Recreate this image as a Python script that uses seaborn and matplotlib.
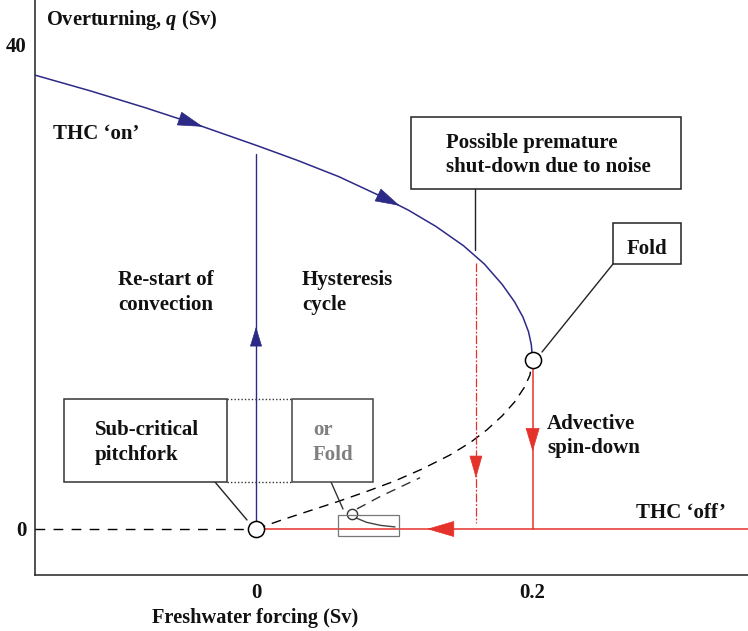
import matplotlib
matplotlib.use("Agg")
import matplotlib.pyplot as plt
import seaborn as sns
import pandas as pd
from matplotlib.patches import Rectangle
from matplotlib.lines import Line2D
from matplotlib.transforms import Affine2D

# ---------------- data ----------------
upper_F = [-0.160, -0.120, -0.080, -0.040, 0.000, 0.030, 0.060, 0.090, 0.110,
           0.130, 0.150, 0.165, 0.178, 0.187, 0.193, 0.197, 0.199, 0.200]
upper_q = [37.5, 36.2, 34.8, 33.3, 31.7, 30.45, 29.1, 27.5, 26.35,
           25.0, 23.4, 21.9, 20.2, 18.75, 17.5, 16.3, 15.25, 14.0]

lower_F = [0.000, 0.020, 0.040, 0.060, 0.080, 0.100, 0.120, 0.140, 0.155,
           0.167, 0.178, 0.187, 0.194, 0.198, 0.200]
lower_q = [0.0, 0.8, 1.55, 2.3, 3.1, 3.95, 4.95, 6.1, 7.15,
           8.2, 9.35, 10.5, 11.7, 12.7, 14.0]

alt_F = [0.073, 0.0897, 0.1186]
alt_q = [1.66, 2.68, 4.24]

inset_F = [0.0715, 0.080, 0.090, 0.1005]
inset_q = [0.95, 0.55, 0.30, 0.17]

off_left_F = [-0.160, 0.0]
off_left_q = [0.0, 0.0]
off_right_F = [0.0, 0.36]
off_right_q = [0.0, 0.0]

restart_F = [0.0, 0.0]
restart_q = [0.0, 31.0]
spindown_F = [0.2, 0.2]
spindown_q = [14.0, 0.0]
noise_F = [0.159, 0.159]
noise_q = [22.0, 0.5]

bif_F = [0.0, 0.2]
bif_q = [0.0, 14.0]
small_F = [0.0694]
small_q = [1.24]

x_ticks = [0, 0.2]
x_ticklabels = ["0", "0.2"]
y_ticks = [0, 40]
y_ticklabels = ["0", "40"]

NAVY = "#2c2a86"
RED = "#e5322a"

# ---------------- figure ----------------
sns.set_theme(style="white")
plt.rcParams["font.family"] = ["Liberation Serif", "DejaVu Serif"]
plt.rcParams["font.weight"] = "bold"
plt.rcParams["mathtext.fontset"] = "custom"
plt.rcParams["mathtext.it"] = "Liberation Serif:italic"
plt.rcParams["mathtext.rm"] = "Liberation Serif:bold"

W, H = 748, 631
fig = plt.figure(figsize=(W / 100, H / 100), dpi=100)
ax = fig.add_axes([35 / W, (H - 575) / H, (W - 35) / W, 575 / H])
ax.set_facecolor("white")


def line(F, q, **kw):
    df = pd.DataFrame({"F": F, "q": q})
    sns.lineplot(data=df, x="F", y="q", estimator=None, sort=False, ax=ax,
                 legend=False, **kw)


line(upper_F, upper_q, color=NAVY, linewidth=1.1, zorder=3)
line(restart_F, restart_q, color=NAVY, linewidth=1.0, zorder=3)
line(lower_F, lower_q, color="black", linewidth=1.0, linestyle=(0, (7, 5)), zorder=3)
line(alt_F, alt_q, color="#333333", linewidth=1.0, linestyle=(0, (7, 5)), zorder=3)
line(off_left_F, off_left_q, color="black", linewidth=1.0, linestyle=(0, (7, 6)), zorder=3)
line(off_right_F, off_right_q, color=RED, linewidth=1.1, zorder=3)
line(spindown_F, spindown_q, color=RED, linewidth=1.1, zorder=3)
line(noise_F, noise_q, color=RED, linewidth=0.9, linestyle=(0, (7, 1.5, 1.5, 1.5)), zorder=3)
line(inset_F, inset_q, color="#444444", linewidth=1.0, zorder=3)

sns.scatterplot(x=bif_F, y=bif_q, s=135, color="white", edgecolor="black",
                linewidth=1.1, zorder=6, ax=ax, legend=False)
sns.scatterplot(x=small_F, y=small_q, s=55, color="white", edgecolor="#333333",
                linewidth=1.0, zorder=6, ax=ax, legend=False)

# arrow heads: (tip, base, colour, head length pt, half width pt)
arrows = [
    ((-0.0383, 33.23), (-0.0553, 33.90), NAVY, 17, 4.8),
    ((0.104, 26.7), (0.0889, 27.55), NAVY, 16.6, 4.7),
    ((0.0, 16.7), (0.0, 15.2), NAVY, 13, 4.0),
    ((0.2, 6.4), (0.2, 8.2), RED, 15.8, 4.7),
    ((0.159, 4.2), (0.159, 5.9), RED, 15, 4.3),
    ((0.1236, 0.0), (0.142, 0.0), RED, 18.4, 5.4),
]
for tip, base, col, hl, hw in arrows:
    ax.annotate("", xy=tip, xytext=base, xycoords="data", textcoords="data",
                arrowprops=dict(arrowstyle=f"-|>,head_length={hl},head_width={hw}",
                                mutation_scale=1, color=col, lw=0.5,
                                shrinkA=0, shrinkB=0), zorder=5)

# axes styling (after seaborn, which sets labels)
ax.set_xlim(-0.1598, 0.3557)
ax.set_ylim(-3.80, 43.70)
for s in ["top", "right"]:
    ax.spines[s].set_visible(False)
for s in ["left", "bottom"]:
    ax.spines[s].set_color("#222222")
    ax.spines[s].set_linewidth(1.1)
ax.set_xticks(x_ticks)
ax.set_xticklabels(x_ticklabels)
ax.set_yticks(y_ticks)
ax.set_yticklabels(y_ticklabels)
ax.tick_params(direction="in", length=11, width=1.0, color="#222222",
               labelsize=15, pad=6.0, labelcolor="#111111")
for lab in ax.get_xticklabels() + ax.get_yticklabels():
    lab.set_fontweight("bold")
ax.set_xlabel("")
ax.set_ylabel("")

# ---------------- annotations in pixel coordinates ----------------
PX = Affine2D().scale(1 / W, -1 / H).translate(0, 1) + fig.transFigure
FS = 15


def txt(x, y, s, color="#111111", size=FS, ha="left", **kw):
    fig.text(x, y, s, transform=PX, ha=ha, va="baseline", color=color,
             fontsize=size, fontweight="bold", zorder=10, **kw)


def box(x0, y0, x1, y1, color="#222222", lw=1.1):
    fig.patches.append(Rectangle((x0, y0), x1 - x0, y1 - y0, transform=PX,
                                 fill=True, facecolor="white", edgecolor=color,
                                 linewidth=lw, zorder=4))


def seg(x0, y0, x1, y1, color="#222222", lw=1.0, ls="-"):
    fig.lines.append(Line2D([x0, x1], [y0, y1], transform=PX, color=color,
                            linewidth=lw, linestyle=ls, zorder=4))


txt(46, 25, "Overturning, $q$ (Sv)", size=14.7)
txt(255, 623, "Freshwater forcing (Sv)", size=14.7, ha="center")

txt(53, 139, "THC \u2018on\u2019")
txt(118, 285, "Re-start of")
txt(118, 310, "convection")
txt(302, 285, "Hysteresis")
txt(302, 310, "cycle")
txt(547, 429, "Advective")
txt(547, 453, "spin-down")
txt(636, 518, "THC \u2018off\u2019")

# boxes
box(411, 117, 681, 189, color="#222222")
txt(446, 148, "Possible premature")
txt(446, 172, "shut-down due to noise")
seg(475, 189, 475, 250)

box(613, 223, 681, 264, color="#222222")
txt(627, 254, "Fold")
seg(613, 264, 542, 352)

box(64, 399, 227, 482, color="#333333")
txt(95, 435, "Sub-critical")
txt(95, 460, "pitchfork")
seg(215, 482, 247, 520)

box(292, 399, 373, 482, color="#444444")
txt(313, 435, "or", color="#808080")
txt(313, 460, "Fold", color="#808080")
seg(331, 482, 343, 509, color="#333333")

seg(227, 399, 292, 399, color="#333333", ls=(0, (1, 1.5)))
seg(227, 482, 292, 482, color="#333333", ls=(0, (1, 1.5)))

fig.patches.append(Rectangle((338, 515), 61, 21, transform=PX, fill=False,
                             edgecolor="#777777", linewidth=0.9, zorder=2))

fig.savefig("out.png", dpi=100, facecolor="white")
